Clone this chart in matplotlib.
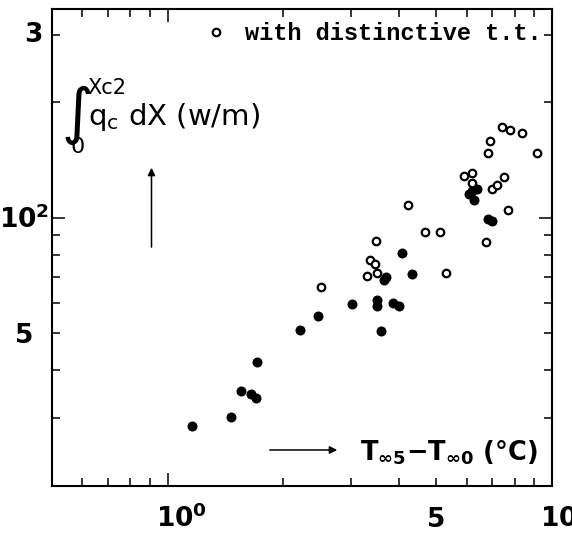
import numpy as np
import matplotlib
matplotlib.use('Agg')
import matplotlib.pyplot as plt
from matplotlib.ticker import LogLocator, NullFormatter, FixedLocator

# solid dots: without distinctive t.t.
filled_x = [1.155, 1.457, 1.552, 1.645, 1.695, 1.705, 2.216, 2.458, 3.009, 3.496, 3.508, 3.854,
            3.996, 3.587, 3.707, 3.663, 4.061, 4.333, 6.080, 6.190, 6.378, 6.264, 6.826, 7.000]
filled_y = [28.7, 30.3, 35.3, 34.8, 34.0, 42.1, 51.1, 55.4, 59.6, 61.2, 58.9, 60.0,
            59.0, 50.6, 70.1, 68.7, 81.0, 71.4, 115.5, 117.6, 118.5, 111.1, 99.5, 98.2]

# open circles: with distinctive t.t.
open_x = [2.507, 3.308, 3.357, 3.466, 3.508, 3.474, 4.217, 4.670, 5.100, 5.312, 6.720, 5.900,
          6.178, 6.200, 6.966, 7.178, 7.499, 7.683, 6.813, 6.883, 7.396, 7.789, 8.354, 9.157]
open_y = [65.9, 70.4, 77.8, 75.9, 71.8, 87.1, 108.1, 91.7, 91.7, 71.8, 86.7, 128.3,
          130.7, 122.9, 118.5, 122.0, 127.9, 104.6, 147.1, 158.1, 172.0, 169.3, 165.9, 147.4]

x_ticklabels = {1: r'10$^{0}$', 5: '5', 10: r'10$^{1}$'}
y_ticklabels = {300: '3', 100: r'10$^{2}$', 50: '5'}

plt.rcParams['mathtext.default'] = 'regular'
plt.rcParams['font.family'] = 'DejaVu Sans'

W, H = 572, 536
fig = plt.figure(figsize=(W / 100, H / 100), dpi=100)
ax = fig.add_axes([52 / W, 1 - 486 / H, 500 / W, 477 / H])

ax.set_xscale('log')
ax.set_yscale('log')
ax.set_xlim(0.5, 10)
ax.set_ylim(20, 350)

ax.plot(filled_x, filled_y, 'o', color='black', ms=7.2, mew=0, linestyle='none')
op, = ax.plot(open_x, open_y, 'o', mfc='white', mec='black', ms=5.4, mew=1.6, linestyle='none')

ax.xaxis.set_major_locator(FixedLocator([1, 10]))
ax.yaxis.set_major_locator(FixedLocator([100]))
ax.xaxis.set_minor_locator(LogLocator(base=10, subs=np.arange(2, 10)))
ax.yaxis.set_minor_locator(LogLocator(base=10, subs=np.arange(2, 10)))
ax.xaxis.set_major_formatter(NullFormatter())
ax.yaxis.set_major_formatter(NullFormatter())
ax.xaxis.set_minor_formatter(NullFormatter())
ax.yaxis.set_minor_formatter(NullFormatter())
ax.tick_params(which='both', direction='in', top=True, right=True, width=1.1, color='black')
ax.tick_params(which='major', length=9.5)
ax.tick_params(which='minor', length=5.5)
for s in ax.spines.values():
    s.set_linewidth(1.5)

# tick labels placed by hand so that they sit like the original
lab_kw = dict(fontsize=19, fontweight='bold', textcoords='offset pixels', annotation_clip=False)
for v, s in x_ticklabels.items():
    if s.startswith('10'):
        ax.annotate(s, xy=(v, 0), xycoords=ax.get_xaxis_transform(), xytext=(-12, -41),
                    ha='left', va='baseline', **lab_kw)
    else:
        ax.annotate(s, xy=(v, 0), xycoords=ax.get_xaxis_transform(), xytext=(0, -41),
                    ha='center', va='baseline', **lab_kw)
for v, s in y_ticklabels.items():
    dx = {300: -9, 100: -3, 50: -19}[v]
    dy = {300: -7, 100: -10, 50: -10}[v]
    ax.annotate(s, xy=(0, v), xycoords=ax.get_yaxis_transform(), xytext=(dx, dy),
                ha='right', va='baseline', **lab_kw)

# y axis quantity
ax.text(0.020, 0.776, '\u222b', transform=ax.transAxes, fontsize=44, ha='left', va='center')
ax.text(0.070, 0.855, 'Xc2', transform=ax.transAxes, fontsize=15, ha='left', va='top')
ax.text(0.038, 0.698, '0', transform=ax.transAxes, fontsize=16, ha='left', va='baseline')
ax.text(0.072, 0.757, 'q$_c$ dX (w/m)', transform=ax.transAxes, fontsize=21,
        ha='left', va='baseline')
ax.annotate('', xy=(0.199, 0.673), xytext=(0.199, 0.495), xycoords='axes fraction',
            arrowprops=dict(arrowstyle='-|>', lw=1.1, color='black', mutation_scale=11))

# x axis quantity
ax.text(0.616, 0.0545, 'T$_{\u221e5}$\u2212T$_{\u221e0}$ (\u00b0C)', transform=ax.transAxes,
        fontsize=18.5, fontweight='bold', ha='left', va='baseline')
ax.annotate('', xy=(0.576, 0.0755), xytext=(0.43, 0.0755), xycoords='axes fraction',
            arrowprops=dict(arrowstyle='-|>', lw=1.1, color='black', mutation_scale=11))

ax.legend([op], ['with distinctive t.t.'], loc='upper right', bbox_to_anchor=(0.98, 0.972),
          frameon=False, borderpad=0, borderaxespad=0, handlelength=0.8, handletextpad=0.83,
          prop=dict(family='Liberation Mono', weight='bold', size=17))

fig.savefig('out.png', dpi=100)
